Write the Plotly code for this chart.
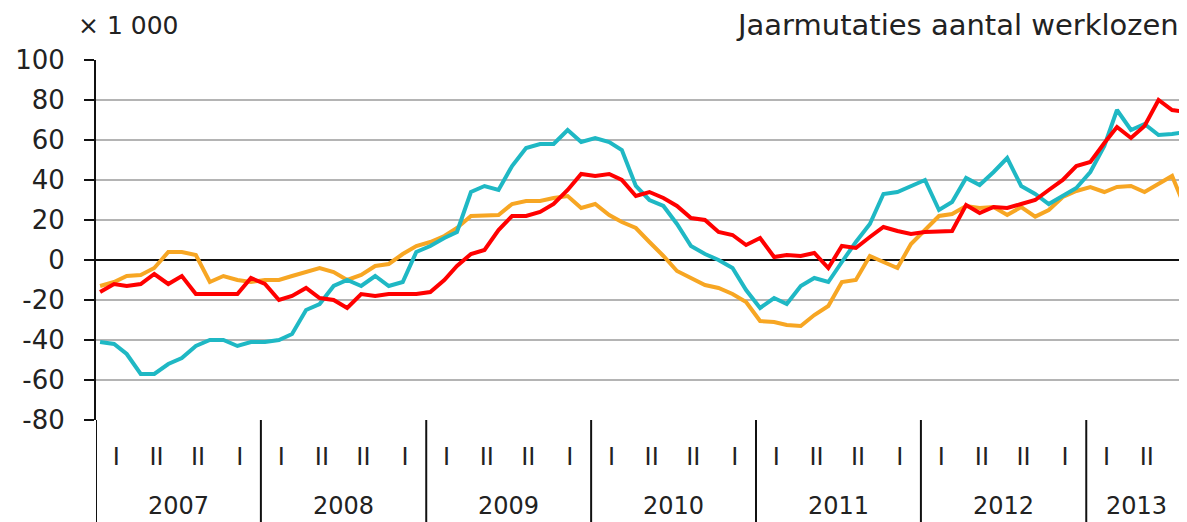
"""
Jaarmutaties aantal werklozen (x 1 000), 2007-2013.

Three monthly series drawn as lines on a date axis, with quarter
labels under the axis and the years boxed in by vertical separators.
"""

import pandas as pd
import plotly.graph_objects as go

# ---- data (x 1 000), monthly from January 2007 ----
cyan_values = [
    -41, -42, -47, -57, -57, -52, -49, -43, -40, -40, -43, -41,
    -41, -40, -37, -25, -22, -13, -10, -13, -8, -13, -11, 4,
    7, 11, 14, 34, 37, 35, 47, 56, 58, 58, 65, 59,
    61, 59, 55, 37, 30, 27, 18, 7, 3, 0, -4, -15,
    -24, -19, -22, -13, -9, -11, -1, 9, 18, 33, 34, 37,
    40, 25, 29, 41, 37.5, 44, 51, 37, 33, 28, 32, 36,
    44, 57, 75, 65, 68, 62.5, 63, 64,
]
orange_values = [
    -13, -11, -8, -7.5, -4, 4, 4, 2.5, -11, -8, -10, -11,
    -10, -10, -8, -6, -4, -6, -10, -7.5, -3, -2, 3, 7,
    9, 12, 16, 22, 22, 22.5, 28, 29.5, 29.5, 31, 32, 26,
    28, 22.5, 19, 16, 9, 2, -5.5, -9, -12.5, -14, -17, -21,
    -30.5, -31, -32.5, -33, -27.5, -23, -11, -10, 2, -1, -4, 8,
    15, 22, 23, 27, 26, 26.5, 22.5, 26.5, 21.7, 25, 31.5, 34.5,
    36.5, 34, 36.5, 37, 34, 38, 42, 25,
]
red_values = [
    -16, -12, -13, -12, -7, -12, -8, -17, -17, -17, -17, -9,
    -12, -20, -18, -14, -19, -20, -24, -17, -18, -17, -17, -17,
    -16, -10, -3, 3, 5, 15, 22, 22, 24, 28, 35, 43,
    42, 43, 40, 32, 34, 31, 27, 21, 20, 14, 12.5, 7.5,
    11, 1.5, 2.5, 2, 3.5, -4, 7, 6, 11.5, 16.5, 14.5, 13,
    14, 14, 14.5, 27.5, 23.5, 26.5, 26, 28, 30, 35, 40, 47,
    49, 58.5, 66.5, 61, 67, 80, 75, 74,
]

years = [2007, 2008, 2009, 2010, 2011, 2012, 2013]
quarter_labels = ["I", "II", "II", "I"]
y_tick_vals = [-80, -60, -40, -20, 0, 20, 40, 60, 80, 100]
y_tick_text = ["-80", "-60", "-40", "-20", "0", "20", "40", "60", "80", "100"]

FONT = "DejaVu Sans"
TEXT = "#222222"

months = pd.date_range("2007-01-01", periods=len(cyan_values), freq="MS") + pd.Timedelta(days=9)
x_start = pd.Timestamp(2007, 1, 1)
x_end = pd.Timestamp(2013, 8, 12)

# quarter label positions: middle of each quarter
quarter_pos, quarter_txt = [], []
for yr in years:
    for q, lab in enumerate(quarter_labels):
        quarter_pos.append(pd.Timestamp(yr, 3 * q + 2, 15))
        quarter_txt.append(lab)

fig = go.Figure()
for vals, color in [(orange_values, "#f7a623"), (cyan_values, "#1fb8c4"), (red_values, "#ff0000")]:
    fig.add_trace(go.Scatter(
        x=months, y=vals, mode="lines",
        line=dict(color=color, width=4),
        showlegend=False,
    ))

# year separators, running from the axis down through the label band
for yr in years:
    y0 = pd.Timestamp(yr, 1, 1)
    y1 = min(pd.Timestamp(yr + 1, 1, 1), x_end)
    fig.add_shape(
        type="line", xref="x", yref="paper",
        x0=y0, x1=y0, y0=0, y1=-0.35,
        line=dict(color="#111111", width=2),
    )
    # label centred on the visible part of the year
    fig.add_annotation(
        x=y0 + (y1 - y0) / 2, xref="x", y=0, yref="paper",
        yanchor="middle", yshift=-86, showarrow=False,
        text=str(yr), font=dict(family=FONT, size=24, color=TEXT),
    )

fig.add_annotation(
    x=0, xref="paper", y=1, yref="paper", xanchor="left", yanchor="middle",
    xshift=-20, yshift=35, showarrow=False,
    text="× 1 000", font=dict(family=FONT, size=25, color=TEXT),
)
fig.add_annotation(
    x=1, xref="paper", y=1, yref="paper", xanchor="right", yanchor="middle",
    xshift=-6, yshift=35, showarrow=False,
    text="Jaarmutaties aantal werklozen", font=dict(family=FONT, size=29, color=TEXT),
)

# the page body keeps an 8px margin, so the figure is drawn 8px smaller
fig.update_layout(
    width=1179, height=514,
    margin=dict(l=88, r=0, t=52, b=102, autoexpand=False),
    plot_bgcolor="white", paper_bgcolor="white",
    font=dict(family=FONT, size=24, color=TEXT),
    xaxis=dict(
        type="date", automargin=False,
        range=[x_start, x_end],
        tickvals=quarter_pos, ticktext=quarter_txt,
        ticks="", showgrid=False, showline=False, zeroline=False,
        ticklabelstandoff=20,
        tickfont=dict(family=FONT, size=24, color=TEXT),
    ),
    yaxis=dict(
        automargin=False,
        range=[-80, 100],
        tickvals=y_tick_vals, ticktext=y_tick_text,
        showgrid=True, gridcolor="#b4b4b4", gridwidth=2,
        zeroline=True, zerolinecolor="#111111", zerolinewidth=2,
        showline=True, linecolor="#111111", linewidth=2,
        ticks="outside", ticklen=10, tickwidth=2, tickcolor="#111111",
        ticklabelstandoff=14,
        tickfont=dict(family=FONT, size=26, color=TEXT),
    ),
)

fig.write_html("out.html")
